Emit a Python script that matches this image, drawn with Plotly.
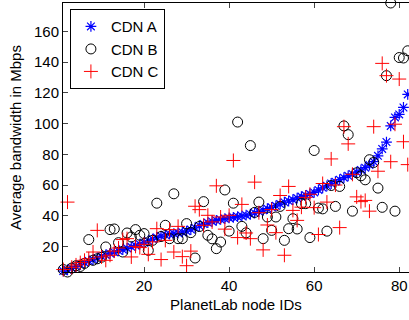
import plotly.graph_objects as go

node_ids = list(range(1, 84))

cdn_a = [4.0, 4.8, 5.8, 7.0, 8.2, 9.5, 10.5, 11.5, 12.5, 13.6,
         14.5, 15.5, 16.3, 17.2, 18.0, 18.8, 19.8, 20.6, 21.5, 22.4,
         23.6, 24.8, 25.9, 26.8, 27.5, 28.0, 28.4, 28.8, 29.3, 30.0,
         31.0, 32.2, 33.5, 34.6, 35.5, 36.3, 37.0, 37.6, 38.1, 38.6,
         39.0, 39.4, 39.9, 40.4, 41.0, 41.8, 42.7, 43.6, 44.6, 45.5,
         46.5, 47.6, 48.8, 49.6, 50.5, 51.5, 52.5, 53.3, 54.2, 55.2,
         56.8, 58.2, 59.5, 61.0, 62.2, 63.5, 64.8, 66.0, 67.2, 68.4,
         69.8, 71.3, 73.0, 75.2, 79.0, 83.5, 88.0, 98.5, 104.0, 106.0,
         110.5, 119.0, 125.0]

cdn_b = [5.0, 3.4, 6.0, 7.5, 7.0, 9.0, 24.5, 11.0, 12.0, 13.0,
         19.7, 31.0, 31.4, 22.5, 16.4, 28.8, 26.2, 31.0, 27.3, 28.4,
         17.5, 24.0, 48.2, 26.5, 33.8, 25.1, 54.3, 25.1, 25.1, 34.9,
         29.0, 12.5, 33.0, 49.2, 27.3, 25.0, 18.6, 22.9, 56.8, 30.0,
         48.2, 101.0, 33.1, 28.9, 85.7, 42.2, 48.9, 25.1, 39.2, 30.5,
         39.2, 46.1, 24.0, 31.6, 38.1, 31.4, 47.9, 47.9, 25.8, 82.5,
         45.0, 44.5, 30.0, 59.7, 46.1, 59.1, 98.5, 92.8, 43.0, 68.0,
         66.0, 63.4, 76.5, 74.7, 58.0, 45.5, 131.2, 178.5, 43.0, 143.0,
         142.7, 147.4, 153.0]

cdn_c = [5.0, 48.9, 6.5, 8.0, 9.5, 11.0, 12.0, 16.4, 30.5, 13.2,
         11.0, 14.3, 17.0, 19.0, 24.5, 25.1, 13.2, 20.1, 19.3, 21.4,
         14.9, 23.0, 31.6, 11.5, 24.0, 31.0, 16.4, 33.1, 13.4, 7.5,
         17.0, 46.2, 44.0, 33.8, 40.3, 36.0, 59.5, 39.2, 31.3, 40.3,
         76.0, 25.8, 47.4, 28.8, 25.1, 61.9, 42.0, 17.8, 34.0, 44.0,
         29.0, 53.2, 14.3, 59.1, 43.5, 37.0, 45.6, 52.0, 54.0, 45.3,
         27.8, 61.0, 48.9, 77.0, 60.0, 32.3, 98.0, 86.8, 67.0, 52.3,
         49.2, 50.0, 43.0, 98.0, 69.0, 139.2, 131.2, 75.2, 99.6, 129.0,
         88.2, 73.3, 64.0]

series_names = ["CDN A", "CDN B", "CDN C"]
x_ticks = [20, 40, 60, 80]
y_ticks = [20, 40, 60, 80, 100, 120, 140, 160]

font = dict(family="Liberation Sans, Arial, sans-serif", size=15, color="black")

fig = go.Figure()
fig.add_trace(go.Scatter(
    x=node_ids, y=cdn_a, mode="markers", name=series_names[0], cliponaxis=False,
    marker=dict(symbol="asterisk-open", size=9, color="#0000ff",
                line=dict(color="#0000ff", width=1.2))))
fig.add_trace(go.Scatter(
    x=node_ids, y=cdn_b, mode="markers", name=series_names[1], cliponaxis=False,
    marker=dict(symbol="circle-open", size=10, color="black",
                line=dict(color="black", width=1))))
fig.add_trace(go.Scatter(
    x=node_ids, y=cdn_c, mode="markers", name=series_names[2], cliponaxis=False,
    marker=dict(symbol="cross-thin-open", size=10, color="#ff0000",
                line=dict(color="#ff0000", width=1))))

fig.update_layout(
    width=409, height=320,
    margin=dict(l=63, r=0, t=3, b=48),
    paper_bgcolor="white", plot_bgcolor="white",
    font=font,
    showlegend=True,
    legend=dict(x=0.02, y=0.977, xanchor="left", yanchor="top",
                bgcolor="white", bordercolor="black", borderwidth=1,
                font=font, itemwidth=30, tracegroupgap=0),
    xaxis=dict(range=[0.94, 82.3], tickvals=x_ticks, ticks="inside", ticklen=5,
               showline=True, linecolor="black", linewidth=1, mirror="ticks",
               showgrid=False, zeroline=False, tickfont=font,
               title=dict(text="PlanetLab node IDs", font=font, standoff=6)),
    yaxis=dict(range=[3.4, 178.5], tickvals=y_ticks, ticks="inside", ticklen=5,
               showline=True, linecolor="black", linewidth=1, mirror=False,
               showgrid=False, zeroline=False, tickfont=font,
               title=dict(text="Average bandwidth in Mbps", font=font, standoff=8)),
)

fig.write_html("out.html", config={"displayModeBar": False})
